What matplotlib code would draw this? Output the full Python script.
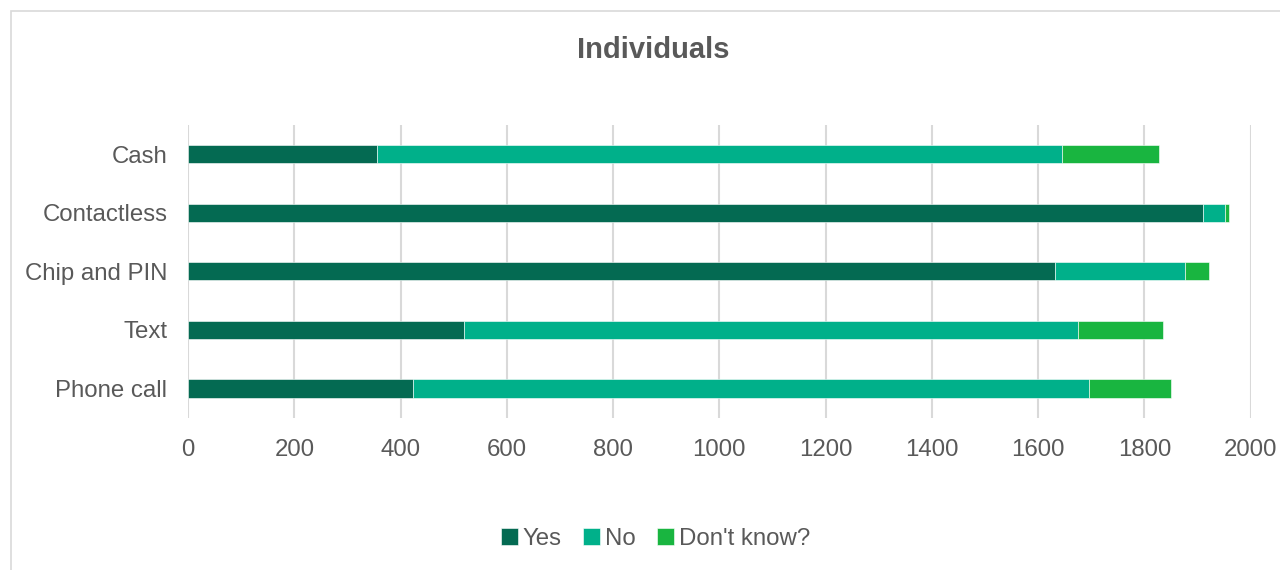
import matplotlib.pyplot as plt
from matplotlib.patches import Rectangle

plt.rcParams['font.family'] = ['Liberation Sans', 'DejaVu Sans']

categories = ['Cash', 'Contactless', 'Chip and PIN', 'Text', 'Phone call']
yes = [356, 1910, 1632, 520, 423]
no = [1289, 42, 245, 1155, 1273]
dont_know = [182, 7, 44, 161, 155]

series = [('Yes', yes, '#046A52'), ('No', no, '#00B08A'), ("Don't know?", dont_know, '#19B540')]
text_color = '#595959'

fig = plt.figure(figsize=(12.8, 5.7), dpi=100)
ax = fig.add_axes([0.147, 0.267, 0.830, 0.514])

ypos = list(range(len(categories)))
left = [0] * len(categories)
for name, vals, col in series:
    ax.barh(ypos, vals, left=left, height=0.31, color=col, label=name,
            edgecolor='white', linewidth=0.4, zorder=3)
    left = [a + b for a, b in zip(left, vals)]

ax.set_yticks(ypos)
ax.set_yticklabels(categories)
ax.set_ylim(4.5, -0.5)
ax.set_xlim(0, 2000)
ax.set_xticks(range(0, 2001, 200))

ax.grid(axis='x', color='#d9d9d9', linewidth=1.5, zorder=0)
for s in ax.spines.values():
    s.set_visible(False)
ax.tick_params(axis='both', length=0, labelsize=17.3, colors=text_color)
ax.tick_params(axis='x', pad=15)
ax.tick_params(axis='y', pad=15)

fig.text(0.51, 0.913, 'Individuals', ha='center', va='center', fontsize=21,
         fontweight='bold', color=text_color)

fig.legend(loc='center', bbox_to_anchor=(0.512, 0.054), ncol=3, frameon=False,
           fontsize=17.3, labelcolor=text_color, handlelength=0.7, handleheight=0.7,
           handletextpad=0.2, columnspacing=0.9)

# chart area border
fig.patches.append(Rectangle((11 / 1280, -0.1), 1.2, 1 - 11 / 570 + 0.1, transform=fig.transFigure,
                             fill=False, edgecolor='#d9d9d9', linewidth=1.2))

fig.savefig('out.png', dpi=100)
